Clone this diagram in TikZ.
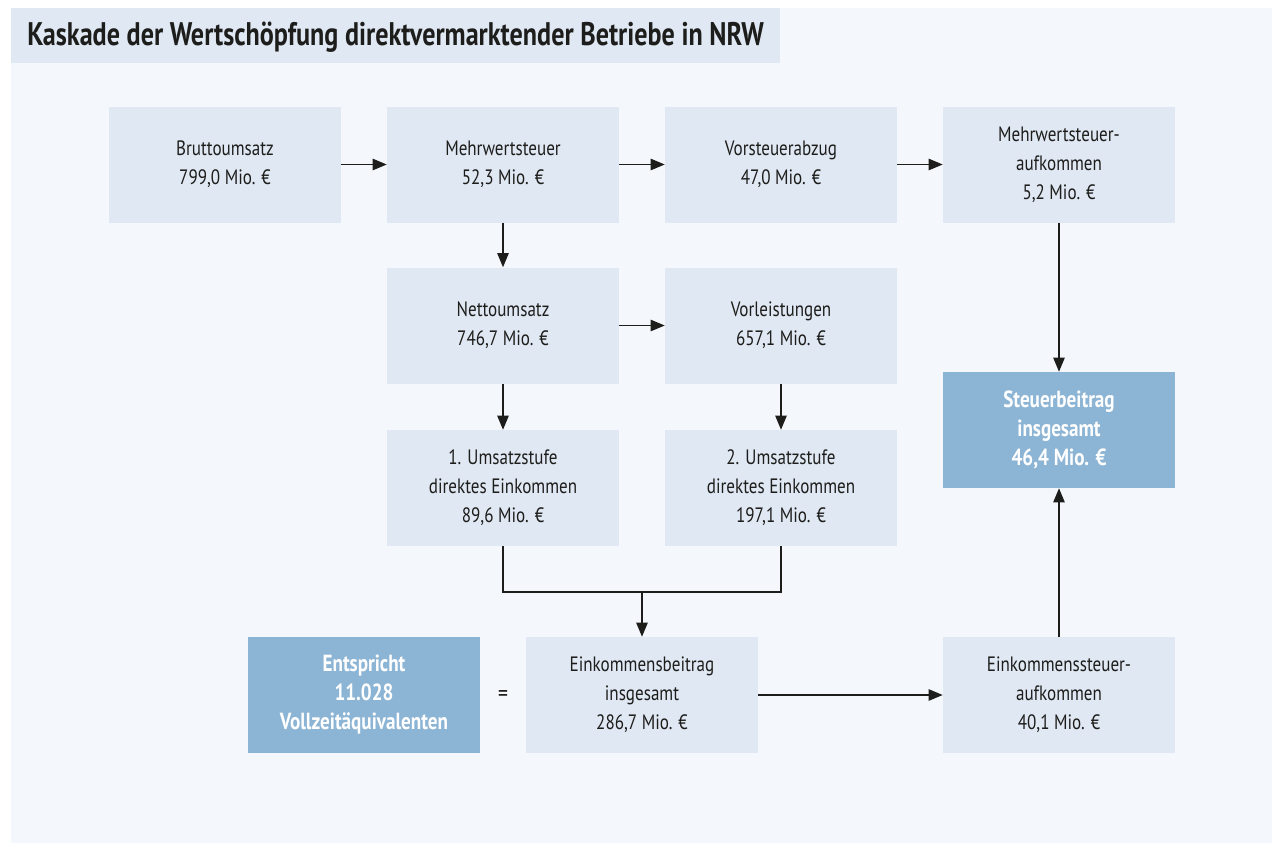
\documentclass[tikz,border=0pt]{standalone}
\usepackage{fontspec}
\setmainfont{PT Sans}[FakeStretch=0.82]
\newfontfamily\titlefont{PT Sans}[FakeStretch=0.8]
\usetikzlibrary{arrows.meta}
\definecolor{panelbg}{HTML}{F4F8FC}
\definecolor{boxfill}{HTML}{E0E8F3}
\definecolor{boxdark}{HTML}{8CB4D4}
\definecolor{inktext}{HTML}{1D1D1B}
\tikzset{
  flowbox/.style={fill=boxfill, minimum width=174pt, minimum height=87pt, inner sep=0pt,
    align=center, text=inktext, font=\fontsize{15.6}{21.75}\selectfont},
  sumbox/.style={flowbox, fill=boxdark, text=white, font=\fontsize{17.5}{21.75}\selectfont\bfseries},
  flowarrow/.style={draw=inktext, line width=1pt, -{Triangle[length=10.5pt,width=8.5pt]}},
  flowline/.style={draw=inktext, line width=1pt}
}
\begin{document}
\begin{tikzpicture}[x=0.75pt,y=0.75pt,yscale=-1,xscale=1]
    \useasboundingbox (0,0) rectangle (1272,843);
    
    %Shape: Background panel
    \fill [panelbg] (11,8) rectangle (1272,843);
    %Shape: Title band
    \fill [boxfill] (11,8) rectangle (780,63);
    % Text Node
    \node [anchor=west, inner sep=0pt, text=inktext, font=\titlefont\fontsize{24.5}{28}\selectfont\bfseries] (title) at (27,37) {Kaskade der Wertschöpfung direktvermarktender Betriebe in NRW};
    
    % Row 1
    \node [flowbox] (brutto) at (225,164.5) {Bruttoumsatz\\799,0 Mio. €};
    \node [flowbox] (mwst) at (503,164.5) {Mehrwertsteuer\\52,3 Mio. €};
    \node [flowbox] (vorst) at (781,164.5) {Vorsteuerabzug\\47,0 Mio. €};
    \node [flowbox] (mwstauf) at (1059,164.5) {Mehrwertsteuer-\\aufkommen\\5,2 Mio. €};
    % Row 2
    \node [flowbox] (netto) at (503,325.5) {Nettoumsatz\\746,7 Mio. €};
    \node [flowbox] (vorl) at (781,325.5) {Vorleistungen\\657,1 Mio. €};
    % Row 3
    \node [flowbox] (stufeone) at (503,488) {1. Umsatzstufe\\direktes Einkommen\\89,6 Mio. €};
    \node [flowbox] (stufetwo) at (781,488) {2. Umsatzstufe\\direktes Einkommen\\197,1 Mio. €};
    \node [sumbox] (steuer) at (1059,430) {Steuerbeitrag\\insgesamt\\46,4 Mio. €};
    % Row 4
    \node [sumbox] (vollzeit) at (364,695) {Entspricht\\11.028\\Vollzeitäquivalenten};
    \node [inner sep=0pt, text=inktext, font=\fontsize{18}{20}\selectfont] (equal) at (503,696) {=};
    \node [flowbox] (einkbeitrag) at (642,695) {Einkommensbeitrag\\insgesamt\\286,7 Mio. €};
    \node [flowbox] (einksteuer) at (1059,695) {Einkommenssteuer-\\aufkommen\\40,1 Mio. €};
    
    %Straight Lines
    \draw [flowarrow] (brutto) -- (mwst);
    \draw [flowarrow] (mwst) -- (vorst);
    \draw [flowarrow] (vorst) -- (mwstauf);
    \draw [flowarrow] (mwst) -- (netto);
    \draw [flowarrow] (netto) -- (vorl);
    \draw [flowarrow] (netto) -- (stufeone);
    \draw [flowarrow] (vorl) -- (stufetwo);
    \draw [flowarrow] (mwstauf) -- (steuer);
    \draw [flowarrow] (einksteuer) -- (steuer);
    \draw [flowarrow] (einkbeitrag) -- (einksteuer);
    %Bracket joining both income stages
    \coordinate (join) at (642,592);
    \draw [flowline] (stufeone.south) |- (join) -| (stufetwo.south);
    \draw [flowarrow] (join) -- (einkbeitrag.north);
    
\end{tikzpicture}
\end{document}
